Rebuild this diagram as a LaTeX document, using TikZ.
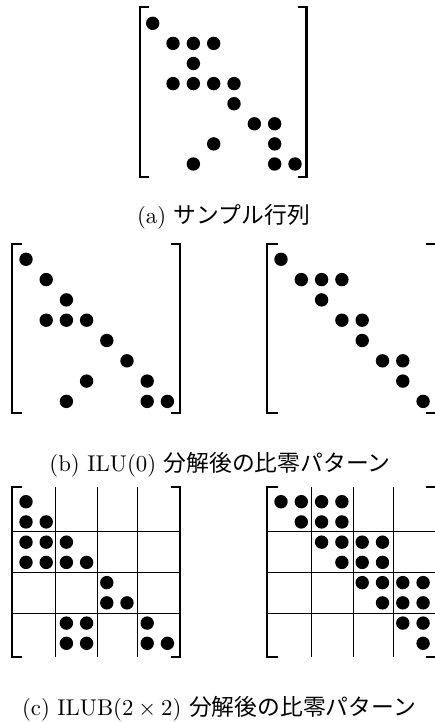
\documentclass[tikz,border=0pt]{standalone}
\usepackage{fontspec}
\newfontfamily\cjk{Noto Sans CJK JP}
\newcommand\brackpair[5]{% left, right, top, bottom, tick
  \draw[brk] (#1+#5,#3) -- (#1,#3) -- (#1,#4) -- (#1+#5,#4);
  \draw[brk] (#2-#5,#3) -- (#2,#3) -- (#2,#4) -- (#2-#5,#4);
}
\begin{document}
\begin{tikzpicture}[x=1pt,y=-1pt,
  brk/.style={line width=2.2pt,line join=miter,line cap=butt},
  grd/.style={line width=0.8pt},
  capt/.style={anchor=base,inner sep=0pt,scale=2.28,font=\fontsize{10}{12}\selectfont}]
\useasboundingbox (0,0) rectangle (435,722);
\clip (0,0) rectangle (435,722);
% ---------- (a) sample matrix
\brackpair{140}{306.5}{7}{177.3}{9}
\foreach \c/\r in {1/1,2/2,3/2,4/2,3/3,2/4,3/4,4/4,5/4,5/5,6/6,7/6,4/7,7/7,3/8,7/8,8/8}
  \fill (152.7+20.33*\c-20.33, 23.3+20.1*\r-20.1) circle[radius=6.7pt];
\node[capt] (capa) at (223.5,223) {(a) {\cjk サンプル行列}};
% ---------- (b) ILU(0): L
\brackpair{12}{180}{244}{413.3}{9.5}
\foreach \c/\r in {1/1,2/2,3/3,2/4,3/4,4/4,5/5,6/6,4/7,7/7,3/8,7/8,8/8}
  \fill (26+20.2*\c-20.2, 259.3+20.3*\r-20.3) circle[radius=6.7pt];
% ---------- (b) ILU(0): U
\brackpair{266.7}{437}{244}{413.3}{11.5}
\foreach \c/\r in {1/1,2/2,3/2,4/2,3/3,4/4,5/4,5/5,6/6,7/6,7/7,8/8}
  \fill (281+20.3*\c-20.3, 259.3+20.3*\r-20.3) circle[radius=6.7pt];
\node[capt] (capb) at (220,471.5) {(b) ILU(0) {\cjk 分解後の比零パターン}};
% ---------- (c) ILUB(2x2): L
\foreach \gx in {55.5,97,137.5} \draw[grd] (\gx,487) -- (\gx,656.7);
\foreach \gy in {531.7,572.5,613.5} \draw[grd] (12,\gy) -- (180,\gy);
\brackpair{12}{180}{486.7}{656.7}{9.5}
\foreach \c/\r in {1/1,1/2,2/2,1/3,2/3,3/3,1/4,2/4,3/4,4/4,5/5,5/6,6/6,3/7,4/7,7/7,3/8,4/8,7/8,8/8}
  \fill (26+20.2*\c-20.2, 501.7+20.23*\r-20.23) circle[radius=6.7pt];
% ---------- (c) ILUB(2x2): U
\foreach \gx in {311.7,353.3,393.7} \draw[grd] (\gx,487) -- (\gx,656.7);
\foreach \gy in {531.7,572.5,613.5} \draw[grd] (266.7,\gy) -- (437,\gy);
\brackpair{266.7}{437}{486.7}{656.7}{11.5}
\foreach \c/\r in {1/1,2/1,3/1,4/1,2/2,3/2,4/2,3/3,4/3,5/3,6/3,4/4,5/4,6/4,5/5,6/5,7/5,8/5,6/6,7/6,8/6,7/7,8/7,8/8}
  \fill (281+20.3*\c-20.3, 501.7+20.23*\r-20.23) circle[radius=6.7pt];
\node[capt] (capc) at (219,715) {(c) ILUB(2\hspace{0.22em}×\hspace{0.22em}2) {\cjk 分解後の比零パターン}};
\end{tikzpicture}
\end{document}
